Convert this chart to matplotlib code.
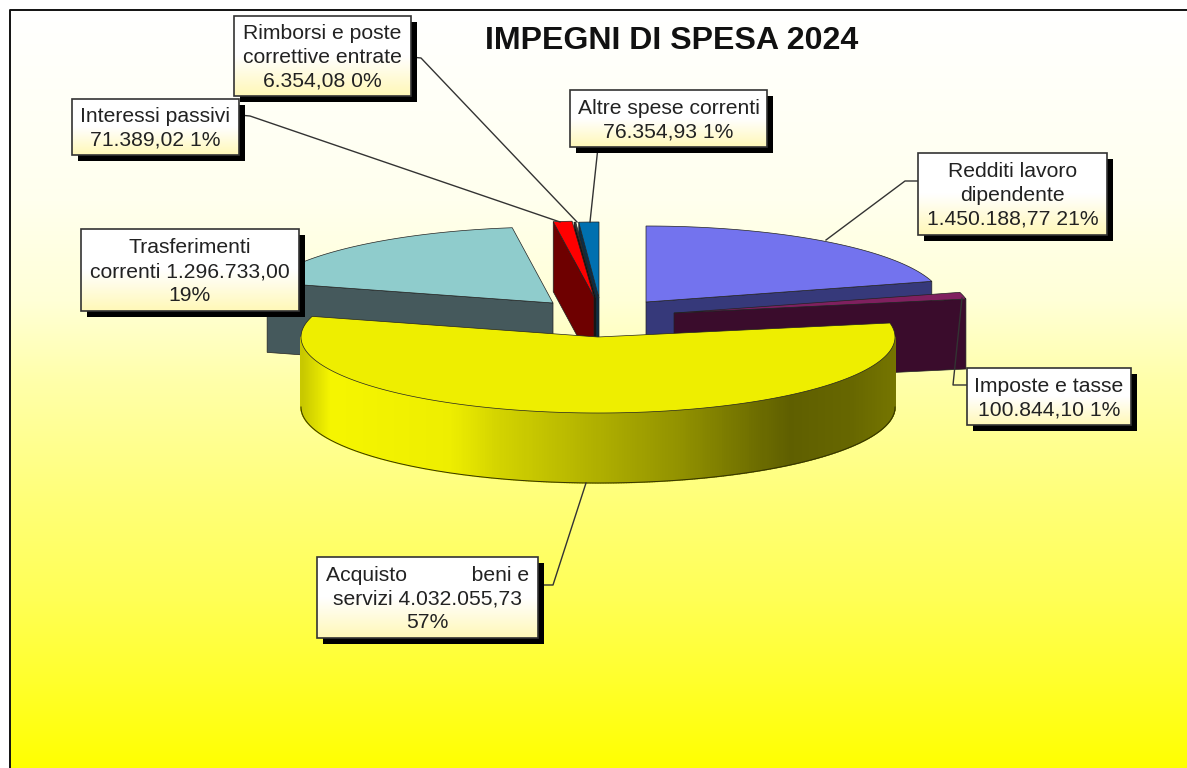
import numpy as np
import matplotlib.pyplot as plt
from matplotlib.collections import PolyCollection
from matplotlib.colors import LinearSegmentedColormap, to_rgb
from matplotlib.patches import Polygon, Rectangle

plt.rcParams['font.family'] = ['Liberation Sans', 'DejaVu Sans']

# dati
categories = ['Redditi lavoro dipendente', 'Imposte e tasse', 'Acquisto beni e servizi',
              'Trasferimenti correnti', 'Interessi passivi',
              'Rimborsi e poste correttive entrate', 'Altre spese correnti']
values = [1450188.77, 100844.10, 4032055.73, 1296733.00, 71389.02, 6354.08, 76354.93]
label_texts = ['Redditi lavoro\ndipendente\n1.450.188,77 21%',
               'Imposte e tasse\n100.844,10 1%',
               'Acquisto           beni e\nservizi 4.032.055,73\n57%',
               'Trasferimenti\ncorrenti 1.296.733,00\n19%',
               'Interessi passivi\n71.389,02 1%',
               'Rimborsi e poste\ncorrettive entrate\n6.354,08 0%',
               'Altre spese correnti\n76.354,93 1%']

# colori
top_colors = ['#7373ee', '#80205f', '#eeee00', '#8fcccc', '#ff0000', '#3a3a3a', '#0070b0']
wall_colors = ['#36397a', '#3a0c2c', '#5a5a00', '#45595c', '#6e0000', '#111111', '#0c2d45']

# layout in pixel
rx, ry, depth = 297, 76, 70
apex = [(646, 302), (674, 313), (598, 337), (553, 303), (594, 297), (596, 298), (599, 298)]
boxes = [(918, 153, 1107, 235), (967, 368, 1131, 425), (317, 557, 538, 638),
         (81, 229, 299, 311), (72, 99, 239, 155), (234, 16, 411, 96), (570, 90, 767, 147)]
leaders = [[(918, 181), (905, 181), (826, 240)],
           [(967, 385), (953, 385), (962, 298)],
           [(538, 585), (553, 585), (586, 483)],
           [],
           [(239, 115), (250, 116), (560, 222)],
           [(411, 57), (421, 58), (577, 222)],
           [(598, 147), (590, 222)]]
draw_order = [0, 3, 6, 5, 4, 1, 2]

# sfumatura del bordo giallo
rim_x = [302, 330, 450, 500, 590, 680, 760, 790, 850, 895]
rim_level = [0.80, 0.98, 0.95, 0.84, 0.71, 0.58, 0.43, 0.38, 0.41, 0.47]

fig = plt.figure(figsize=(11.87, 7.68), dpi=100, facecolor='white')
ax = fig.add_axes([0, 0, 1, 1])

# sfondo
bg_y = [10, 200, 300, 380, 500, 600, 768]
bg_blue = [255, 238, 215, 170, 120, 85, 0]
rows = np.arange(10, 768)
bg = np.ones((len(rows), 1, 3))
bg[:, 0, 2] = np.interp(rows, bg_y, bg_blue) / 255
ax.imshow(bg, extent=(10, 1187, 768, 10), aspect='auto', zorder=0)
ax.plot([10, 10, 1187], [768, 10, 10], color='#111111', lw=1.4, zorder=1)


def ell(theta, cx, cy):
    t = np.radians(theta)
    return cx + rx * np.sin(t), cy - ry * np.cos(t)


fractions = np.array(values) / np.sum(values)
ends = np.cumsum(fractions) * 360
starts = ends - fractions * 360
z = 2
for i in draw_order:
    cx, cy = apex[i]
    a, b = starts[i], ends[i]
    # pareti laterali visibili
    if np.sin(np.radians(a)) < 0:
        ex, ey = ell(a, cx, cy)
        ax.add_patch(Polygon([(cx, cy), (ex, ey), (ex, ey + depth), (cx, cy + depth)],
                             fc=wall_colors[i], ec='#222222', lw=0.5, zorder=z))
    if np.sin(np.radians(b)) > 0.01:
        ex, ey = ell(b, cx, cy)
        ax.add_patch(Polygon([(cx, cy), (ex, ey), (ex, ey + depth), (cx, cy + depth)],
                             fc=wall_colors[i], ec='#222222', lw=0.5, zorder=z))
    # bordo esterno
    lo, hi = max(a, 90), min(b, 270)
    if hi > lo:
        th = np.arange(lo, hi + 0.5, 0.5)
        px, py = ell(th, cx, cy)
        quads = [[(px[k], py[k]), (px[k + 1], py[k + 1]),
                  (px[k + 1], py[k + 1] + depth), (px[k], py[k] + depth)]
                 for k in range(len(th) - 1)]
        base = np.array(to_rgb(top_colors[i]))
        levels = np.interp((px[:-1] + px[1:]) / 2, rim_x, rim_level)
        cols = [tuple(base * lv / 0.95) for lv in levels]
        ax.add_collection(PolyCollection(quads, facecolors=cols, edgecolors=cols,
                                         linewidths=1.0, zorder=z))
        ax.plot(px, py + depth, color='#333300', lw=0.7, zorder=z)
    # faccia superiore
    th = np.linspace(a, b, 200)
    px, py = ell(th, cx, cy)
    ax.add_patch(Polygon([(cx, cy)] + list(zip(px, py)), fc=top_colors[i],
                         ec='#222222', lw=0.5, zorder=z + 0.5))
    z += 1

# etichette
cmap = LinearSegmentedColormap.from_list('box', ['#ffffff', '#ffffff', '#fff8b8'])
grad = np.linspace(0, 1, 64).reshape(-1, 1)
for i, (x0, y0, x1, y1) in enumerate(boxes):
    if leaders[i]:
        ax.plot(*zip(*leaders[i]), color='#333333', lw=1.0, zorder=20)
    ax.add_patch(Rectangle((x0 + 6, y0 + 6), x1 - x0, y1 - y0, fc='black', ec='none', zorder=21))
    ax.imshow(grad, cmap=cmap, extent=(x0, x1, y1, y0), aspect='auto', zorder=22)
    ax.add_patch(Rectangle((x0, y0), x1 - x0, y1 - y0, fc='none', ec='#333333', lw=1.2, zorder=23))
    ax.text((x0 + x1) / 2, (y0 + y1) / 2 + 1.5, label_texts[i], ha='center', va='center',
            fontsize=15.2, color='#222222', linespacing=1.33, zorder=24)

ax.text(671.5, 41, 'IMPEGNI DI SPESA 2024', ha='center', va='center', fontsize=23.1,
        fontweight='bold', color='#111111', zorder=25)

ax.set_xlim(0, 1187)
ax.set_ylim(768, 0)
ax.axis('off')

fig.savefig('out.png', dpi=100, facecolor='white')
